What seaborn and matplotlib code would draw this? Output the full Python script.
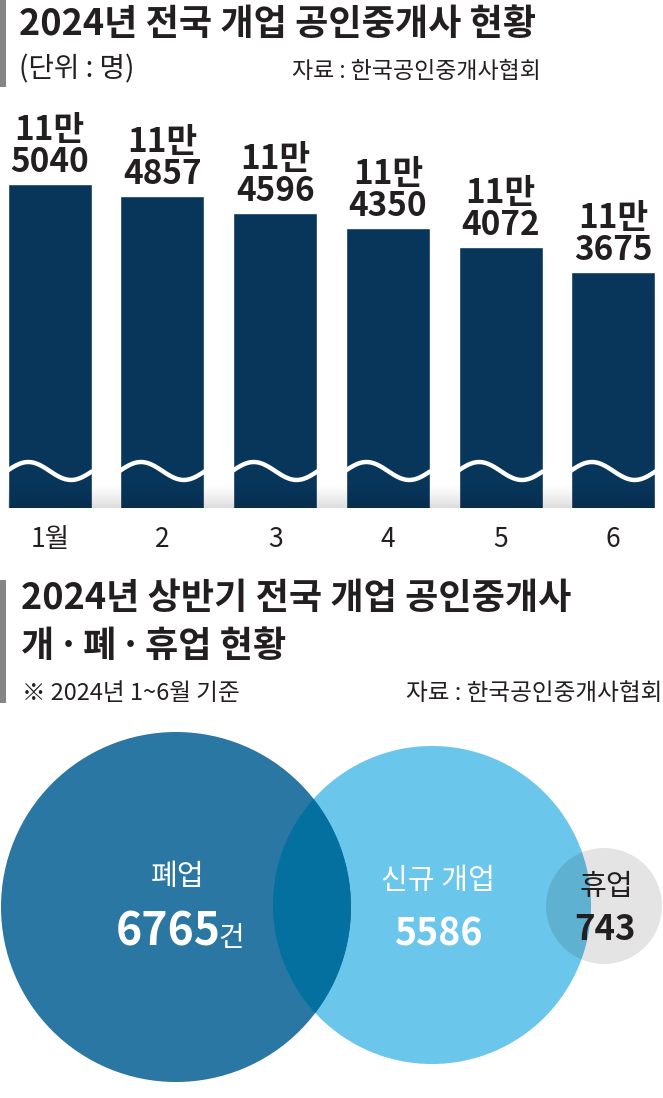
import numpy as np
import pandas as pd
import matplotlib
matplotlib.use("Agg")
import matplotlib.pyplot as plt
import matplotlib.transforms as mtransforms
from matplotlib.patches import Circle, Rectangle
import seaborn as sns

# monthly number of open brokers (2024)
months = ["1월", "2", "3", "4", "5", "6"]
agents = [115040, 114857, 114596, 114350, 114072, 113675]

# first half 2024: closed / newly opened / suspended
venn_labels = ["폐업", "신규 개업", "휴업"]
venn_values = [6765, 5586, 743]

W, H = 663, 1098
NAVY = "#08355a"
INK = "#231f20"
BIG = "#2b77a3"
LIGHT = "#6bc6eb"
OVER = "#0470a0"

sns.set_style("white")
plt.rcParams["font.family"] = ["Noto Sans CJK KR", "DejaVu Sans"]

fig = plt.figure(figsize=(W / 100, H / 100), dpi=100)


def fx(x):
    return x / W


def fy(y):
    return 1 - y / H


# grey markers next to the titles
for y0, y1 in [(0, 87), (580, 703)]:
    fig.add_artist(Rectangle((0, fy(y1)), fx(6), (y1 - y0) / H,
                             transform=fig.transFigure, color="#858585", lw=0))

fig.text(fx(19), fy(24), "2024년 전국 개업 공인중개사 현황", fontsize=26,
         fontweight="bold", va="center", color=INK)
fig.text(fx(19), fy(69), "(단위 : 명)", fontsize=20, va="center", color=INK)
fig.text(fx(292), fy(72), "자료 : 한국공인중개사협회", fontsize=16.5, va="center", color=INK)

fig.text(fx(21), fy(598), "2024년 상반기 전국 개업 공인중개사", fontsize=26,
         fontweight="bold", va="center", color=INK)
fig.text(fx(21), fy(646), "개\u200a·\u200a폐\u200a·\u200a휴업 현황", fontsize=26,
         fontweight="bold", va="center", color=INK)
fig.text(fx(22), fy(693), "※ 2024년 1~6월 기준", fontsize=17, va="center", color=INK)
fig.text(fx(662), fy(693), "자료 : 한국공인중개사협회", fontsize=17, va="center",
         ha="right", color=INK)

# --- bar chart (truncated axis) ---
ax = fig.add_axes([fx(8), fy(508), fx(647), 408 / H])
df = pd.DataFrame({"month": months, "agents": agents})
sns.barplot(data=df, x="month", y="agents", color=NAVY, saturation=1,
            width=0.745, ax=ax)
ymin = 110040
per_px = 15.42
ax.set_xlabel("")
ax.set_ylabel("")
ax.set_yticks([])
ax.tick_params(axis="x", length=0, pad=13, labelsize=19, labelcolor=INK)
for lab in ax.get_xticklabels():
    lab.set_fontweight("light")
sns.despine(ax=ax, left=True, bottom=True)

# wavy break marks
trans = mtransforms.blended_transform_factory(ax.transData, ax.transAxes)
t = np.linspace(0, 1, 100)
for i in range(len(months)):
    ax.plot(i - 0.38 + 0.76 * t, 0.0907 + 0.022 * np.sin(2 * np.pi * t),
            transform=trans, color="white", lw=3.2, solid_capstyle="butt")

# faint shadow at the foot of the bars
shade = np.zeros((64, 2, 4))
shade[..., 3] = np.linspace(0.22, 0.0, 64)[:, None] ** 1.3
ax.imshow(shade, extent=(0, 1, 0, 0.06), transform=ax.transAxes, origin="lower",
          aspect="auto", interpolation="bilinear", zorder=3)

for i, v in enumerate(agents):
    ax.annotate(f"{v % 10000}", xy=(i, v), xytext=(0, 12), textcoords="offset pixels",
                ha="center", va="baseline", fontsize=24, fontweight="bold", color=INK)
    ax.annotate(f"{v // 10000}만", xy=(i, v), xytext=(0, 44), textcoords="offset pixels",
                ha="center", va="baseline", fontsize=24, fontweight="bold", color=INK)
ax.set_xlim(-0.37, 5.37)
ax.set_ylim(ymin, ymin + 408 * per_px)

# --- circles ---
ax2 = fig.add_axes([0, 0, 1, 378 / H])
ax2.set_xlim(0, W)
ax2.set_ylim(H, 720)
ax2.axis("off")

centers = [(176, 907), (432, 905), (604, 906)]
radii = [175 * np.sqrt(v / venn_values[0]) for v in venn_values]

light = Circle(centers[1], radii[1], color=LIGHT, lw=0)
ax2.add_patch(light)
ax2.add_patch(Circle(centers[0], radii[0], color=BIG, lw=0))
over = Circle(centers[0], radii[0], color=OVER, lw=0)
ax2.add_patch(over)
over.set_clip_path(light)
ax2.add_patch(Circle(centers[2], radii[2], facecolor="black", alpha=0.105, lw=0))

ax2.text(178, 877, venn_labels[0], ha="center", va="center", fontsize=21, color="white")
num = ax2.text(168, 945, f"{venn_values[0]}", ha="center", va="baseline",
               fontsize=32, fontweight="bold", color="white")
ax2.annotate("건", xy=(1, 0), xycoords=num, xytext=(-2, 2), textcoords="offset pixels",
             ha="left", va="bottom", fontsize=20, color="white")

ax2.text(438, 881, venn_labels[1], ha="center", va="center", fontsize=21, color="white")
ax2.text(438, 945, f"{venn_values[1]}", ha="center", va="baseline",
         fontsize=27, fontweight="bold", color="white")

ax2.text(606, 887, venn_labels[2], ha="center", va="center", fontsize=21, color=INK)
ax2.text(605, 940, f"{venn_values[2]}", ha="center", va="baseline",
         fontsize=25, fontweight="bold", color=INK)

fig.savefig("out.png", dpi=100)
